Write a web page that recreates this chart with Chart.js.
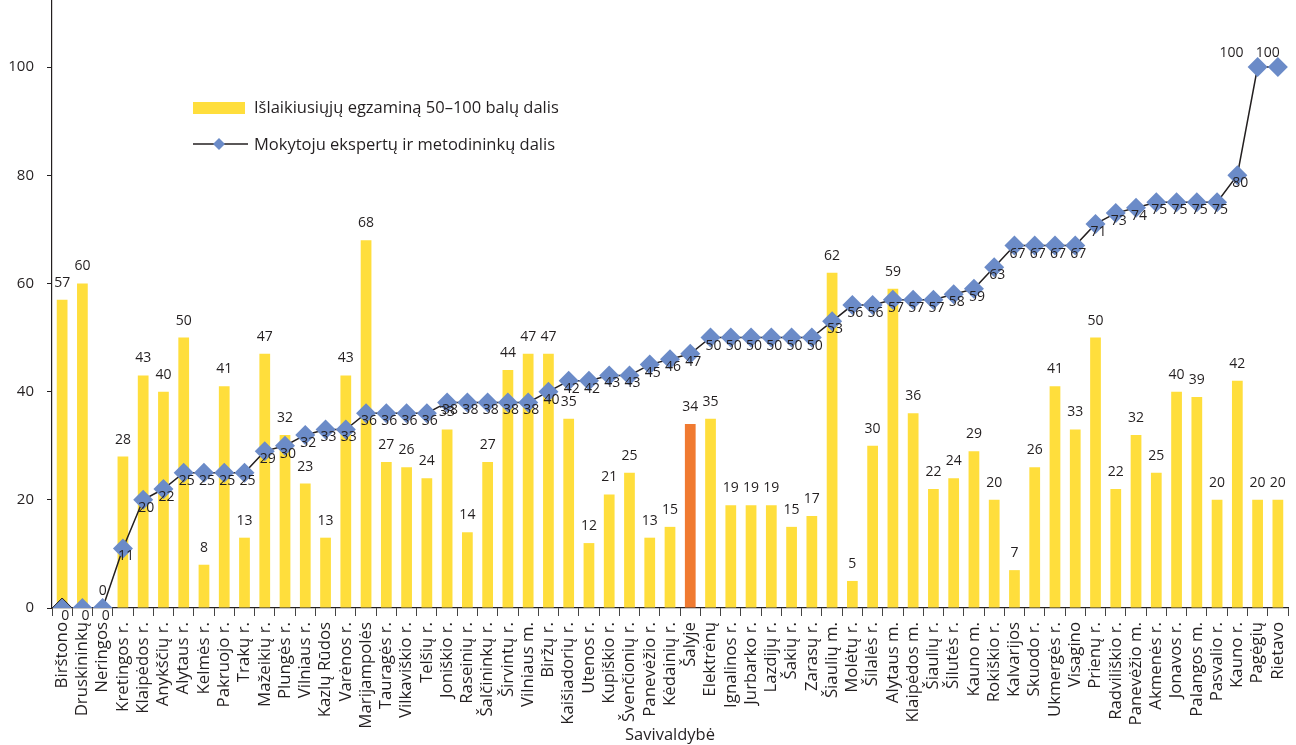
<!DOCTYPE html>
<html>
<head>
<meta charset="utf-8">
<style>
  html, body { margin: 0; padding: 0; background: #fff; }
  #wrap { width: 1296px; height: 745px; }
</style>
</head>
<body>
<div id="wrap">
  <canvas id="myChart" width="1296" height="745"></canvas>
</div>

<script src="https://cdn.jsdelivr.net/npm/chart.js"></script>

<script>
const municipalities = [
  "Birštono", "Druskininkų", "Neringos", "Kretingos r.", "Klaipėdos r.", "Anykščių r.",
  "Alytaus r.", "Kelmės r.", "Pakruojo r.", "Trakų r.", "Mažeikių r.", "Plungės r.",
  "Vilniaus r.", "Kazlų Rūdos", "Varėnos r.", "Marijampolės", "Tauragės r.", "Vilkaviškio r.",
  "Telšių r.", "Joniškio r.", "Raseinių r.", "Šalčininkų r.", "Širvintų r.", "Vilniaus m.",
  "Biržų r.", "Kaišiadorių r.", "Utenos r.", "Kupiškio r.", "Švenčionių r.", "Panevėžio r.",
  "Kėdainių r.", "Šalyje", "Elektrėnų", "Ignalinos r.", "Jurbarko r.", "Lazdijų r.",
  "Šakių r.", "Zarasų r.", "Šiaulių m.", "Molėtų r.", "Šilalės r.", "Alytaus m.",
  "Klaipėdos m.", "Šiaulių r.", "Šilutės r.", "Kauno m.", "Rokiškio r.", "Kalvarijos",
  "Skuodo r.", "Ukmergės r.", "Visagino", "Prienų r.", "Radviliškio r.", "Panevėžio m.",
  "Akmenės r.", "Jonavos r.", "Palangos m.", "Pasvalio r.", "Kauno r.", "Pagėgių", "Rietavo"
];

// Išlaikiusiųjų egzaminą 50–100 balų dalis
const passedShare = [
  57, 60, 0, 28, 43, 40, 50, 8, 41, 13, 47, 32,
  23, 13, 43, 68, 27, 26, 24, 33, 14, 27, 44, 47,
  47, 35, 12, 21, 25, 13, 15, 34, 35, 19, 19, 19,
  15, 17, 62, 5, 30, 59, 36, 22, 24, 29, 20, 7,
  26, 41, 33, 50, 22, 32, 25, 40, 39, 20, 42, 20, 20
];

// Mokytoju ekspertų ir metodininkų dalis
const expertShare = [
  0, 0, 0, 11, 20, 22, 25, 25, 25, 25, 29, 30,
  32, 33, 33, 36, 36, 36, 36, 38, 38, 38, 38, 38,
  40, 42, 42, 43, 43, 45, 46, 47, 50, 50, 50, 50,
  50, 50, 53, 56, 56, 57, 57, 57, 58, 59, 63, 67,
  67, 67, 67, 71, 73, 74, 75, 75, 75, 75, 80, 100, 100
];

const yTicks = [0, 20, 40, 60, 80, 100];

const countryLabel = "Šalyje";
const yellow = "#FFDE3C";
const orange = "#F07A31";
const blue = "#6B8BC8";
const ink = "#231F20";
const FONT = "'Open Sans', 'DejaVu Sans', sans-serif";

const labelPlugin = {
  id: "valueLabels",
  afterDatasetsDraw(chart) {
    const ctx = chart.ctx;
    ctx.save();
    ctx.font = "14px " + FONT;
    ctx.fillStyle = ink;
    ctx.textAlign = "center";
    ctx.textBaseline = "alphabetic";
    chart.getDatasetMeta(1).data.forEach((bar, i) => {
      ctx.fillText(String(passedShare[i]), bar.x, bar.y - 13);
    });
    chart.getDatasetMeta(0).data.forEach((pt, i) => {
      const v = expertShare[i];
      if (v === 100) {
        const dx = i === expertShare.length - 1 ? -10 : -26;
        ctx.fillText(String(v), pt.x + dx, pt.y - 10);
      } else {
        ctx.fillText(String(v), pt.x + 3, pt.y + 12);
      }
    });
    ctx.restore();
  }
};

const legendPlugin = {
  id: "customLegend",
  afterDraw(chart) {
    const ctx = chart.ctx;
    ctx.save();
    ctx.fillStyle = yellow;
    ctx.fillRect(193, 102, 52, 12);
    ctx.strokeStyle = ink;
    ctx.lineWidth = 1.5;
    ctx.beginPath();
    ctx.moveTo(193, 144);
    ctx.lineTo(248, 144);
    ctx.stroke();
    ctx.fillStyle = blue;
    ctx.beginPath();
    ctx.moveTo(219, 138);
    ctx.lineTo(225, 144);
    ctx.lineTo(219, 150);
    ctx.lineTo(213, 144);
    ctx.closePath();
    ctx.fill();
    ctx.fillStyle = ink;
    ctx.font = "16.5px " + FONT;
    ctx.textAlign = "left";
    ctx.textBaseline = "middle";
    ctx.fillText(chart.data.datasets[1].label, 254, 108);
    ctx.fillText(chart.data.datasets[0].label, 254, 145);
    ctx.restore();
  }
};

const config = {
  type: "bar",
  data: {
    labels: municipalities,
    datasets: [
      {
        type: "line",
        label: "Mokytoju ekspertų ir metodininkų dalis",
        data: expertShare,
        borderColor: ink,
        borderWidth: 1.5,
        backgroundColor: blue,
        pointStyle: "rectRot",
        pointRadius: 10,
        pointBackgroundColor: blue,
        pointBorderColor: expertShare.map((v, i) => i === 0 ? ink : blue),
        pointBorderWidth: expertShare.map((v, i) => i === 0 ? 1 : 0),
        tension: 0,
        order: 0
      },
      {
        label: "Išlaikiusiųjų egzaminą 50–100 balų dalis",
        data: passedShare,
        backgroundColor: municipalities.map(m => m === countryLabel ? orange : yellow),
        categoryPercentage: 1,
        barPercentage: 0.53,
        order: 1
      }
    ]
  },
  options: {
    responsive: false,
    animation: false,
    layout: { autoPadding: false, padding: { left: 0, right: 8, top: 0, bottom: 0 } },
    plugins: {
      legend: { display: false },
      tooltip: { enabled: false }
    },
    scales: {
      x: {
        offset: true,
        afterFit: (scale) => {
          scale.height = 137;
          scale.paddingLeft = 0;
          scale.paddingRight = 0;
        },
        border: { color: ink, width: 1.2 },
        grid: {
          offset: true,
          drawOnChartArea: false,
          drawTicks: true,
          tickLength: 8,
          color: "#444"
        },
        ticks: {
          autoSkip: false,
          minRotation: 90,
          maxRotation: 90,
          padding: 6,
          color: ink,
          font: { family: FONT, size: 16.8 }
        },
        title: {
          display: true,
          text: "Savivaldybė",
          color: ink,
          padding: { top: 0, bottom: 0 },
          font: { family: FONT, size: 16.5 }
        }
      },
      y: {
        min: 0,
        max: 112.4,
        afterFit: (scale) => {
          scale.width = 52;
          scale.paddingTop = 0;
          scale.paddingBottom = 0;
        },
        afterBuildTicks: (scale) => { scale.ticks = yTicks.map(v => ({ value: v })); },
        border: { color: ink, width: 1.2 },
        grid: {
          drawOnChartArea: false,
          drawTicks: true,
          tickLength: 5,
          color: ink
        },
        ticks: {
          padding: 13,
          color: ink,
          font: { family: FONT, size: 15 }
        }
      }
    }
  },
  plugins: [labelPlugin, legendPlugin]
};

const ctx = document.getElementById("myChart");
const examChart = new Chart(ctx, config);
</script>
</body>
</html>
